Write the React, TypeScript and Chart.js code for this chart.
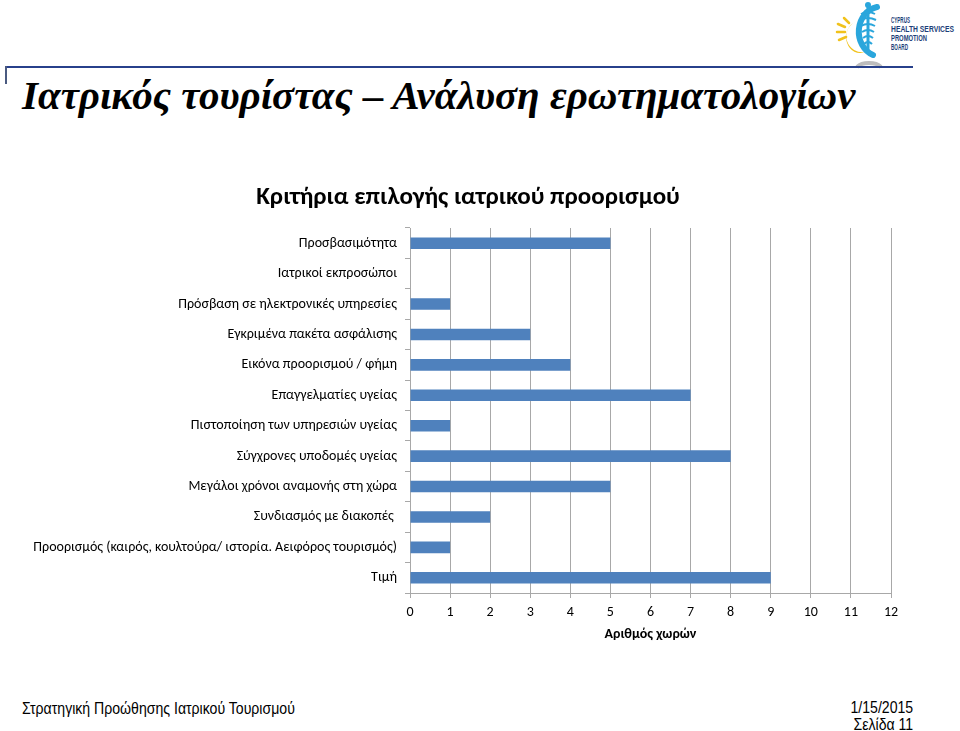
import React, { useEffect, useRef } from "react";
import { Chart, registerables } from "chart.js";

Chart.register(...registerables);

const categories = [
  "Προσβασιμότητα",
  "Ιατρικοί εκπροσώποι",
  "Πρόσβαση σε ηλεκτρονικές υπηρεσίες",
  "Εγκριμένα πακέτα ασφάλισης",
  "Εικόνα προορισμού / φήμη",
  "Επαγγελματίες υγείας",
  "Πιστοποίηση των υπηρεσιών υγείας",
  "Σύγχρονες υποδομές υγείας",
  "Μεγάλοι χρόνοι αναμονής στη χώρα",
  "Συνδιασμός με διακοπές ",
  "Προορισμός (καιρός, κουλτούρα/ ιστορία. Αειφόρος τουρισμός)",
  "Τιμή",
];
const values = [5, 0, 1, 3, 4, 7, 1, 8, 5, 2, 1, 9];
const xMin = 0;
const xMax = 12;
const xStep = 1;

const chartTitle = "Κριτήρια επιλογής ιατρικού προορισμού";
const xTitle = "Αριθμός χωρών";
const slideTitle = "Ιατρικός τουρίστας – Ανάλυση ερωτηματολογίων";
const footerLeft = "Στρατηγική Προώθησης Ιατρικού Τουρισμού";
const footerDate = "1/15/2015";
const footerPage = "Σελίδα 11";

const FONT = "Carlito, Lato, 'Open Sans', sans-serif";
const SANS = "'Liberation Sans', Arial, sans-serif";
const GRID = "#a8a8a8";

// Draws the chart title centred on the full canvas width (not the plot area).
const centeredTitle = {
  id: "centeredTitle",
  afterDraw(chart: any) {
    const ctx = chart.ctx;
    ctx.save();
    ctx.font = `bold 25px ${FONT}`;
    ctx.fillStyle = "#000";
    ctx.textAlign = "center";
    ctx.textBaseline = "middle";
    ctx.fillText(chartTitle, chart.width / 2, 28);
    ctx.restore();
  },
};

function Logo() {
  return (
    <svg
      width={125}
      height={70}
      style={{ position: "absolute", left: 835, top: 0 }}
      viewBox="0 0 125 70"
    >
      <g stroke="#f1c21b" strokeWidth={2.5} strokeLinecap="round">
        <line x1={3} y1={24} x2={10} y2={27} />
        <line x1={2} y1={32} x2={10} y2={32} />
        <line x1={4} y1={40} x2={11} y2={37} />
        <line x1={9} y1={18} x2={14} y2={23} />
      </g>
      <path d="M20 22 A16 16 0 0 0 30 52 A13 15 0 0 1 20 22 Z" fill="#f1c21b" />
      <path
        d="M42 7 A22 25 0 0 0 38 55"
        fill="none"
        stroke="#2aa6dc"
        strokeWidth={6}
        strokeLinecap="round"
      />
      <line x1={33} y1={6} x2={33} y2={52} stroke="#2aa6dc" strokeWidth={3} />
      <path
        d="M26 14 Q33 10 40 14 M25 20 Q33 16 41 20 M26 26 Q33 22 40 26 M27 32 Q33 28 39 32 M28 38 Q33 34 38 38 M29 44 Q33 40 37 44"
        fill="none"
        stroke="#2aa6dc"
        strokeWidth={2}
      />
      <circle cx={33} cy={5} r={3} fill="#2aa6dc" />
      <path d="M22 67 A14 8 0 0 1 46 67" fill="none" stroke="#bdbdbd" strokeWidth={4} />
      <g fontFamily={SANS} fontSize={8.5} fontWeight="bold" fill="#1d3f7a">
        <text x={56} y={23} textLength={19} lengthAdjust="spacingAndGlyphs">CYPRUS</text>
        <text x={56} y={32} textLength={63} lengthAdjust="spacingAndGlyphs">HEALTH SERVICES</text>
        <text x={56} y={41} textLength={36} lengthAdjust="spacingAndGlyphs">PROMOTION</text>
        <text x={56} y={50} textLength={17} lengthAdjust="spacingAndGlyphs">BOARD</text>
      </g>
    </svg>
  );
}

export default function App() {
  const canvasRef = useRef<HTMLCanvasElement | null>(null);

  useEffect(() => {
    if (!canvasRef.current) return;
    const chart = new Chart(canvasRef.current, {
      type: "bar",
      data: {
        labels: categories,
        datasets: [
          {
            data: values,
            backgroundColor: "#4f81bd",
            borderWidth: 0,
            categoryPercentage: 1,
            barPercentage: 0.38,
          },
        ],
      },
      plugins: [centeredTitle],
      options: {
        indexAxis: "y",
        responsive: false,
        animation: false,
        maintainAspectRatio: false,
        layout: { padding: { left: 0, right: 45, top: 58, bottom: 0 } },
        plugins: {
          legend: { display: false },
          tooltip: { enabled: false },
          title: { display: false },
        },
        scales: {
          x: {
            min: xMin,
            max: xMax,
            ticks: {
              stepSize: xStep,
              color: "#000",
              font: { family: FONT, size: 14 },
              padding: 6,
            },
            grid: { color: GRID, tickLength: 5, drawTicks: true },
            border: { color: GRID },
            title: {
              display: true,
              text: xTitle,
              color: "#000",
              font: { family: FONT, size: 14, weight: "bold" },
              padding: { top: 4, bottom: 0 },
            },
            afterFit: (s: any) => {
              s.height = 50;
            },
          },
          y: {
            ticks: {
              color: "#000",
              font: { family: FONT, size: 14 },
              padding: 8,
              autoSkip: false,
            },
            grid: {
              drawOnChartArea: false,
              tickLength: 5,
              color: GRID,
              offset: true,
            },
            border: { color: GRID },
            afterFit: (s: any) => {
              s.width = 410;
            },
          },
        },
      },
    });
    return () => chart.destroy();
  }, []);

  return (
    <div
      style={{
        position: "absolute",
        left: 0,
        top: 0,
        width: 960,
        height: 731,
        background: "#fff",
        overflow: "hidden",
      }}
    >
      <Logo />
      <div
        style={{
          position: "absolute",
          left: 5,
          top: 66,
          width: 908,
          height: 2,
          background: "#27408b",
        }}
      />
      <div
        style={{
          position: "absolute",
          left: 5,
          top: 66,
          width: 2,
          height: 18,
          background: "#4a5a80",
        }}
      />
      <div
        style={{
          position: "absolute",
          left: 22,
          top: 71,
          fontFamily: "'Liberation Serif', 'Times New Roman', serif",
          fontStyle: "italic",
          fontWeight: "bold",
          fontSize: 41,
          lineHeight: "48px",
          whiteSpace: "nowrap",
          color: "#000",
        }}
      >
        {slideTitle}
      </div>
      <canvas
        ref={canvasRef}
        width={936}
        height={473}
        style={{ position: "absolute", left: 0, top: 170, width: 936, height: 473 }}
      />
      <div
        style={{
          position: "absolute",
          left: 22,
          top: 699,
          fontFamily: SANS,
          fontSize: 16,
          lineHeight: "20px",
          whiteSpace: "nowrap",
          color: "#000",
          transform: "scaleX(0.88)",
          transformOrigin: "left top",
        }}
      >
        {footerLeft}
      </div>
      <div
        style={{
          position: "absolute",
          right: 960 - 913,
          top: 699,
          fontFamily: SANS,
          fontSize: 16,
          lineHeight: "17px",
          whiteSpace: "nowrap",
          textAlign: "right",
          color: "#000",
          transform: "scaleX(0.88)",
          transformOrigin: "right top",
        }}
      >
        <div>{footerDate}</div>
        <div>{footerPage}</div>
      </div>
    </div>
  );
}
